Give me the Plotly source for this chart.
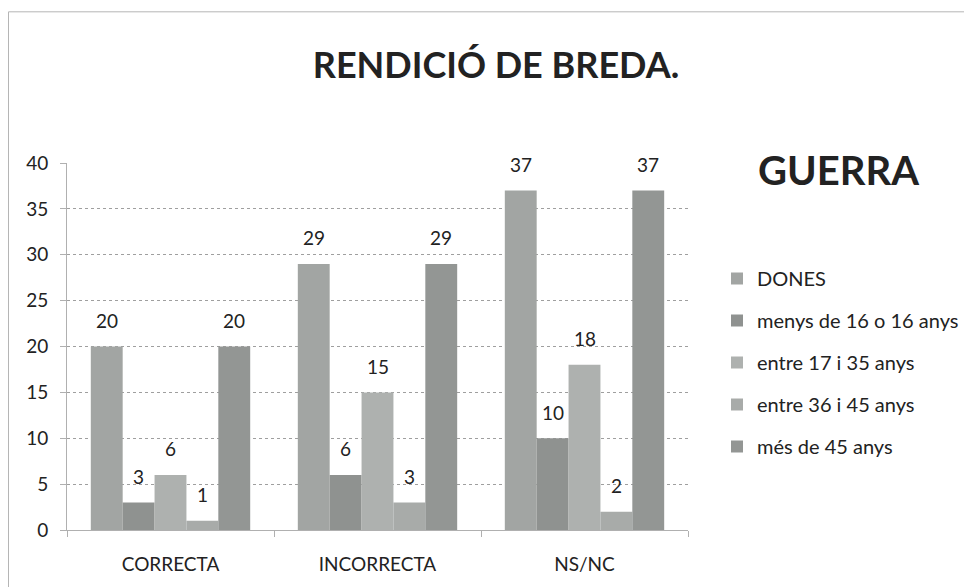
import plotly.graph_objects as go

categories = ["CORRECTA", "INCORRECTA", "NS/NC"]
series_names = ["DONES", "menys de 16 o 16 anys", "entre 17 i 35 anys", "entre 36 i 45 anys", "més de 45 anys"]
dones = [20, 29, 37]
menys16 = [3, 6, 10]
entre17_35 = [6, 15, 18]
entre36_45 = [1, 3, 2]
mes45 = [20, 29, 37]
y_ticks = [0, 5, 10, 15, 20, 25, 30, 35, 40]

series_values = [dones, menys16, entre17_35, entre36_45, mes45]
colors = ["#a2a5a3", "#8f9290", "#aeb1af", "#a8aba9", "#939694"]

# page has an 8px body offset; figure coords = page coords - 8
OFF = 8
W, H = 964, 579
L, T = 67 - OFF, 163 - OFF
PW, PH = 621, 369
R = W - L - PW
B = H - T - PH
BARGAP = 0.23


def px_x(p):
    return (p - OFF - L) / PW


def px_y(p):
    return (H - B - (p - OFF)) / PH


FONT = "Lato"
fig = go.Figure()
n = len(series_names)
bar_px = PW / len(categories) * (1 - BARGAP) / n
for i, (name, vals) in enumerate(zip(series_names, series_values)):
    fig.add_trace(go.Bar(
        x=categories, y=vals, name=name,
        marker=dict(color=colors[i], line=dict(width=0)),
        legendgroup=name,
    ))
    for c, v in zip(categories, vals):
        fig.add_annotation(x=c, y=v, text=str(v), showarrow=False,
                           xshift=(i - (n - 1) / 2) * bar_px, yshift=26,
                           xanchor="center", yanchor="middle",
                           font=dict(family=FONT, size=19, color="#222222"))

fig.update_layout(
    width=W, height=H,
    margin=dict(l=L, r=R, t=T, b=B),
    paper_bgcolor="white", plot_bgcolor="white",
    barmode="group", bargap=BARGAP, bargroupgap=0,
    font=dict(family=FONT, color="#222222"),
    title=dict(text="<b>RENDICIÓ DE BREDA.</b>", x=(496 - OFF) / W, xanchor="center",
               y=1 - (65 - OFF) / H, yanchor="middle",
               font=dict(family=FONT, size=36, color="#222222")),
    showlegend=True,
    legend=dict(xref="container", yref="container", x=(717 - OFF) / W, y=1 - (259 - OFF) / H,
                xanchor="left", yanchor="top", traceorder="grouped",
                tracegroupgap=13, font=dict(family=FONT, size=20, color="#222222"),
                itemwidth=30, bgcolor="rgba(0,0,0,0)"),
)
fig.update_xaxes(
    type="category", showline=True, linecolor="#b0b0b0", linewidth=1,
    ticks="outside", tickson="boundaries", ticklen=6, tickcolor="#b0b0b0",
    tickfont=dict(family=FONT, size=19, color="#222222"), ticklabelstandoff=17,
    showgrid=False, zeroline=False,
)
fig.update_yaxes(
    range=[0, 40], tickvals=y_ticks, showline=True, linecolor="#b0b0b0", linewidth=1,
    ticks="outside", ticklen=6, tickcolor="#b0b0b0",
    tickfont=dict(family=FONT, size=19, color="#222222"), ticklabelstandoff=8,
    showgrid=True, gridcolor="#9f9f9f", griddash="dot", gridwidth=1, zeroline=False,
)
fig.add_annotation(text="<b>GUERRA</b>", xref="paper", yref="paper",
                   x=px_x(838), y=px_y(170), xanchor="center", yanchor="middle",
                   showarrow=False, font=dict(family=FONT, size=40, color="#222222"))
# outer chart border (left and top edges visible)
fig.add_shape(type="rect", xref="paper", yref="paper",
              x0=px_x(8.5), x1=px_x(1000), y0=px_y(620), y1=px_y(11),
              line=dict(color="#b5b5b5", width=1), layer="below")

fig.write_html("out.html")
